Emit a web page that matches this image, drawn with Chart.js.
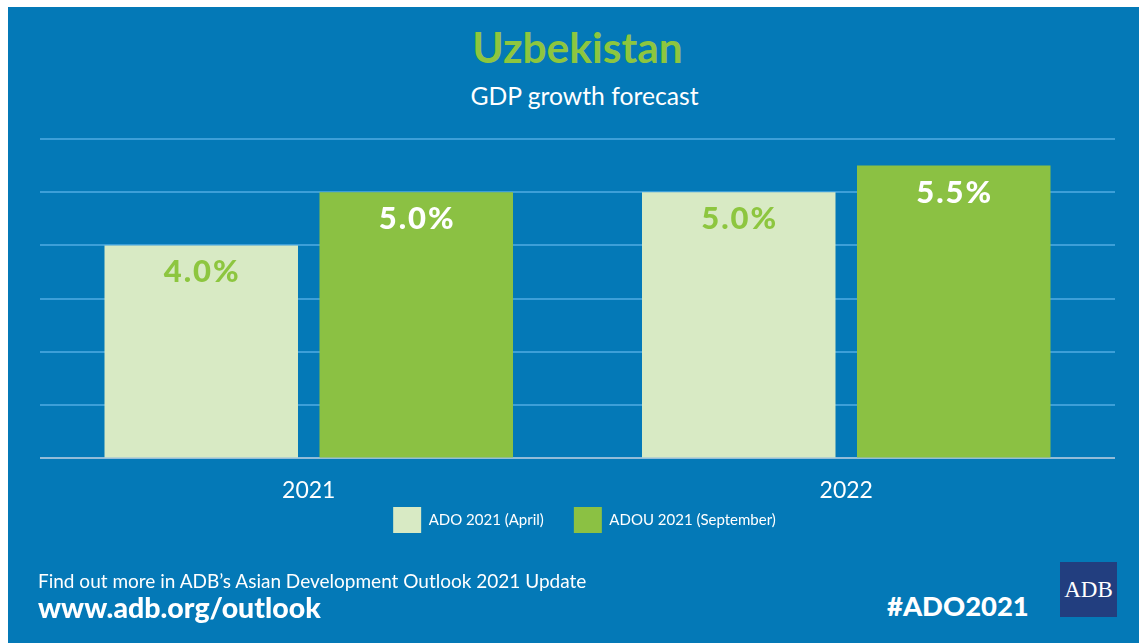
<!DOCTYPE html>
<html>
<head>
<meta charset="utf-8">
<script src="https://cdn.jsdelivr.net/npm/chart.js@4.4.0/dist/chart.umd.min.js"></script>
<style>
  html, body { margin: 0; padding: 0; background: #ffffff; }
  body { width: 1139px; height: 643px; position: relative; overflow: hidden; font-family: Lato, "Open Sans", sans-serif; }
  #frame { position: absolute; left: 8px; top: 7px; width: 1131px; height: 636px; background: #0479b7; }
  #chartWrap { position: absolute; left: 0; top: 0; width: 1139px; height: 580px; }
  .txt { position: absolute; white-space: nowrap; }
  #title { left: 12px; width: 1131px; text-align: center; top: 22px; font-size: 42.5px; line-height: 50px; font-weight: 700; color: #8dc63f; }
  #subtitle { left: 19px; width: 1131px; text-align: center; top: 81px; font-size: 24.7px; line-height: 30px; color: #ffffff; }
  #foot1 { left: 38px; top: 570px; font-size: 19px; line-height: 22px; color: #ffffff; }
  #foot2 { left: 38px; top: 591px; font-size: 28.5px; line-height: 32px; font-weight: 900; color: #ffffff; }
  #hash { left: 887px; top: 590px; font-size: 27.4px; line-height: 32px; font-weight: 900; color: #ffffff; }
  #logo { position: absolute; left: 1060px; top: 562px; width: 57px; height: 55px; background: #223e7f; color: #ffffff;
          font-family: "Liberation Serif", "DejaVu Serif", serif; font-size: 23px; line-height: 55px; text-align: center; }
</style>
</head>
<body>
<div id="frame"></div>
<div class="txt" id="title">Uzbekistan</div>
<div class="txt" id="subtitle">GDP growth forecast</div>
<div id="chartWrap"><canvas id="c"></canvas></div>
<div class="txt" id="foot1">Find out more in ADB’s Asian Development Outlook 2021 Update</div>
<div class="txt" id="foot2">www.adb.org/outlook</div>
<div class="txt" id="hash">#ADO2021</div>
<div id="logo">ADB</div>
<script>
const categories = ["2021", "2022"];
const seriesNames = ["ADO 2021 (April)", "ADOU 2021 (September)"];
const aprilValues = [4.0, 5.0];
const septemberValues = [5.0, 5.5];
const yTicks = [0, 1, 2, 3, 4, 5, 6];

const lightBar = "#d8eac4";
const greenBar = "#8bc143";
const labelGreen = "#8dc63f";

const barLabels = {
  id: "barLabels",
  afterDatasetsDraw(chart) {
    const ctx = chart.ctx;
    ctx.save();
    ctx.font = "900 31px Lato, sans-serif";
    try { ctx.letterSpacing = "2px"; } catch (e) {}
    ctx.textAlign = "center";
    ctx.textBaseline = "middle";
    chart.data.datasets.forEach((ds, i) => {
      const meta = chart.getDatasetMeta(i);
      meta.data.forEach((el, j) => {
        ctx.fillStyle = i === 0 ? labelGreen : "#ffffff";
        ctx.fillText(ds.data[j].toFixed(1) + "%", el.x + 1, el.y + 27);
      });
    });
    ctx.restore();
  }
};

const legendShift = {
  id: "legendShift",
  afterLayout(chart) {
    const lg = chart.legend;
    if (lg) {
      lg.left += 7; lg.right += 7;
      lg.top -= 37; lg.bottom -= 37;
    }
  }
};

new Chart(document.getElementById("c"), {
  type: "bar",
  data: {
    labels: categories,
    datasets: [
      { label: seriesNames[0], data: aprilValues, backgroundColor: lightBar, borderWidth: 0 },
      { label: seriesNames[1], data: septemberValues, backgroundColor: greenBar, borderWidth: 0 }
    ]
  },
  options: {
    responsive: true,
    maintainAspectRatio: false,
    animation: false,
    categoryPercentage: 0.8,
    barPercentage: 0.9,
    layout: { padding: { left: 40, right: 24, top: 139, bottom: 0 } },
    plugins: {
      title: { display: false },
      tooltip: { enabled: false },
      legend: {
        position: "bottom",
        labels: {
          color: "#ffffff",
          boxWidth: 28,
          boxHeight: 26,
          padding: 30,
          font: { family: "Lato", size: 15 }
        }
      }
    },
    scales: {
      x: {
        grid: { display: false },
        border: { display: false },
        ticks: { color: "#ffffff", padding: 10, font: { family: "Lato", size: 23 } }
      },
      y: {
        min: 0,
        max: 6,
        afterBuildTicks(scale) { scale.ticks = yTicks.map(v => ({ value: v })); },
        afterFit(scale) { scale.width = 0; },
        ticks: { display: false },
        border: { display: false },
        grid: {
          color: (c) => (c.tick && c.tick.value === 0 ? "#93bcd8" : "#3d9fd8"),
          lineWidth: 2,
          drawTicks: false
        }
      }
    }
  },
  plugins: [barLabels, legendShift]
});
</script>
</body>
</html>
